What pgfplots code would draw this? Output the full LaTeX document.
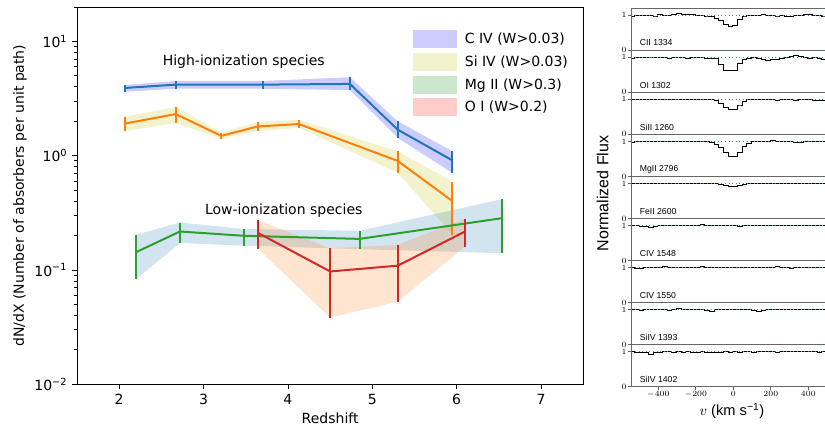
\documentclass[border=0pt]{standalone}
\usepackage{pgfplots}
\pgfplotsset{compat=1.18}
\usepackage{pgfplotstable}
\usepgfplotslibrary{fillbetween}
\usepackage{fontspec}
\setmainfont{DejaVu Sans}
\newfontfamily\helv{Liberation Sans}
\definecolor{c0}{HTML}{1F77B4}
\definecolor{c1}{HTML}{FF7F0E}
\definecolor{c2}{HTML}{2CA02C}
\definecolor{c3}{HTML}{D62728}
\definecolor{yel}{rgb}{0.75,0.75,0}
\definecolor{grn}{rgb}{0,0.5,0}
\definecolor{contc}{HTML}{3A8CC8}

\pgfplotstableread{
z y lo hi
2.07 3.91 3.62 4.15
2.67 4.18 3.85 4.50
3.70 4.18 3.85 4.50
4.735 4.24 3.75 4.85
5.30 1.69 1.43 2.00
5.95 0.908 0.705 1.09
}\civ
\pgfplotstableread{
z y lo hi
2.07 1.91 1.64 2.18
2.67 2.31 1.93 2.67
3.21 1.49 1.40 1.59
3.64 1.80 1.64 1.97
4.13 1.89 1.75 2.06
5.30 0.90 0.71 1.09
5.95 0.40 0.203 0.594
}\siiv
\pgfplotstableread{
z y lo hi
2.20 0.143 0.083 0.203
2.72 0.217 0.172 0.260
3.48 0.199 0.163 0.228
4.85 0.187 0.152 0.220
6.54 0.284 0.140 0.417
}\mgii
\pgfplotstableread{
z y lo hi
3.65 0.21 0.152 0.271
4.50 0.097 0.0383 0.155
5.30 0.109 0.0528 0.166
6.10 0.217 0.160 0.279
}\oi

\pgfplotstableread{
v p1 p2 p3 p4 p5 p6 p7 p8 p9
-540 0.97 0.98 0.99 0.98 0.99 0.99 0.99 1.00 1.00
-515 0.99 1.00 1.00 0.99 1.00 0.99 0.98 0.99 0.99
-490 1.00 0.99 0.99 1.00 0.99 0.98 0.97 0.98 0.97
-465 0.99 1.00 1.01 0.99 1.00 0.96 0.99 0.99 0.98
-440 1.00 1.01 1.00 1.00 1.00 0.93 1.00 1.00 0.93
-415 0.98 0.99 1.01 1.00 1.00 0.98 1.00 1.00 0.98
-390 1.01 1.00 1.00 1.01 0.99 0.99 1.00 0.99 0.99
-365 1.00 0.99 0.99 1.00 1.00 1.00 1.02 1.00 1.00
-340 0.99 0.98 1.00 0.99 1.00 1.01 1.00 0.98 1.00
-315 1.03 1.00 1.01 1.00 0.99 1.01 0.99 1.01 0.99
-290 1.05 0.99 1.00 1.01 1.00 1.00 1.00 1.03 1.00
-265 1.03 1.00 1.00 1.00 1.00 0.99 0.99 1.01 0.99
-240 1.02 0.98 0.99 1.00 0.99 1.00 1.00 1.00 1.00
-215 1.01 0.99 1.00 0.99 1.00 1.01 1.00 0.99 0.99
-190 1.00 1.00 1.01 1.00 1.00 1.00 0.99 1.00 0.99
-165 0.99 0.99 1.00 1.01 0.99 1.03 1.02 0.99 1.00
-140 0.98 0.97 0.99 1.00 1.00 1.00 1.01 0.98 0.99
-115 0.97 0.98 0.99 0.98 1.00 0.99 1.00 0.96 0.97
-90 0.92 0.97 0.96 0.92 0.99 1.00 0.99 0.99 0.98
-65 0.84 0.80 0.88 0.82 0.96 1.00 1.00 1.00 0.99
-40 0.74 0.63 0.78 0.68 0.93 0.99 1.00 0.99 1.00
-15 0.69 0.62 0.71 0.57 0.91 0.99 1.00 1.00 0.99
10 0.70 0.63 0.72 0.56 0.92 0.99 0.99 0.99 1.00
35 0.88 0.82 0.84 0.68 0.95 0.98 1.00 1.00 0.99
60 0.98 0.93 0.95 0.85 0.98 0.99 0.99 1.00 1.00
85 1.00 0.97 0.99 0.95 1.00 1.00 1.00 0.99 1.00
110 1.00 0.99 1.00 0.99 0.99 1.00 0.99 0.98 0.99
135 0.99 0.96 1.01 1.00 1.00 0.99 1.00 0.96 1.00
160 1.01 0.93 1.00 1.01 1.00 1.00 1.00 0.98 1.00
185 1.00 0.92 0.99 1.00 0.99 1.01 1.01 1.00 1.01
210 0.99 0.95 1.00 1.02 1.00 1.00 1.00 0.99 1.00
235 0.98 0.93 0.98 1.01 1.00 1.00 1.02 1.00 0.99
260 0.99 0.98 0.99 1.00 0.99 1.00 0.99 1.01 1.00
285 0.97 1.00 1.00 0.99 1.00 1.01 0.99 1.00 1.01
310 0.96 1.02 0.99 1.00 1.00 1.01 0.98 0.99 1.00
335 0.99 1.04 0.98 0.98 1.00 1.00 0.99 1.00 1.00
360 1.00 1.02 0.99 0.96 0.99 1.00 1.00 1.00 1.01
385 1.01 1.00 1.00 0.99 1.00 0.99 0.99 1.01 1.00
410 1.02 0.98 0.99 1.00 1.00 1.00 1.00 1.00 1.00
435 1.00 0.99 0.98 1.01 1.00 1.00 1.00 0.99 1.00
460 0.99 0.96 0.97 1.00 1.01 0.99 1.00 1.00 0.99
485 0.98 0.95 0.96 1.01 1.00 1.00 0.99 1.01 1.00
510 0.98 0.96 0.98 1.00 0.99 0.99 1.00 0.99 1.00
}\specdata

\pgfplotsset{
  spec/.style={anchor=south west, width=147.4pt, height=31.53pt, scale only axis,
    xmin=-543, xmax=505, ymin=0, ymax=1.2, ytick={0,1}, xtick=\empty,
    tick align=outside, ytick pos=left, xtick pos=bottom,
    axis line style={black!60, line width=0.6pt}, tick style={black!60, line width=0.6pt},
    major tick length=2.5pt,
    ticklabel style={font=\fontsize{6.5}{7}\selectfont, inner sep=1pt}},
  flux/.style={black, line width=0.7pt, const plot mark mid},
  cont/.style={contc, dotted, line width=0.7pt},
  err/.style={line width=1.5pt, forget plot, error bars/.cd, y dir=both, y explicit,
    error mark=none, error bar style={line width=1.5pt}},
}
\tikzset{plab/.style={anchor=west, inner sep=0pt, font=\helv\fontsize{6.5}{7}\selectfont}}

\begin{document}
\begin{tikzpicture}
\begin{axis}[
  at={(57.75pt,32.8pt)}, anchor=south west,
  width=379.7pt, height=283pt, scale only axis,
  xmin=1.5, xmax=7.5, ymode=log, ymin=0.01, ymax=20,
  xtick={2,3,4,5,6,7},
  ytick={0.01,0.1,1,10},
  yticklabels={10\textsuperscript{−2},10\textsuperscript{−1},10\textsuperscript{0},10\textsuperscript{1}},
  minor ytick={0.02,0.03,0.04,0.05,0.06,0.07,0.08,0.09,0.2,0.3,0.4,0.5,0.6,0.7,0.8,0.9,2,3,4,5,6,7,8,9,20},
  tick align=outside, xtick pos=bottom, ytick pos=left,
  major tick length=3.7pt, minor tick length=2.1pt,
  tick style={black, line width=0.6pt}, axis line style={black, line width=0.6pt},
  ticklabel style={font=\fontsize{10.5}{12}\selectfont},
  /pgf/number format/assume math mode=true,
  xlabel={Redshift}, ylabel={dN/dX (Number of absorbers per unit path)},
  label style={font=\fontsize{10.5}{12}\selectfont},
  xlabel style={at={(axis description cs:0.5,-0.0894)}, anchor=center},
  ylabel style={at={(axis description cs:-0.1126,0.5)}, anchor=center},
  legend image code/.code={\fill[#1, draw=none] (0pt,-6.8pt) rectangle (33pt,6.8pt);},
  legend style={at={(0.664,0.938)}, anchor=north west, draw=none, fill=none,
    inner sep=0pt, outer sep=0pt, row sep=3.4pt,
    font=\fontsize{10.5}{12}\selectfont,
    nodes={inner sep=0pt, outer sep=0pt},
    /tikz/every odd column/.append style={column sep=5.8pt}},
  legend cell align=left,
]
% bands
\addplot[name path=civlo, draw=none, forget plot] table[x=z,y=lo]{\civ};
\addplot[name path=civhi, draw=none, forget plot] table[x=z,y=hi]{\civ};
\addplot[fill=blue, fill opacity=0.2, draw=none, forget plot] fill between[of=civlo and civhi];
\addplot[name path=silo, draw=none, forget plot] table[x=z,y=lo]{\siiv};
\addplot[name path=sihi, draw=none, forget plot] table[x=z,y=hi]{\siiv};
\addplot[fill=yel, fill opacity=0.2, draw=none, forget plot] fill between[of=silo and sihi];
\addplot[name path=mglo, draw=none, forget plot] table[x=z,y=lo]{\mgii};
\addplot[name path=mghi, draw=none, forget plot] table[x=z,y=hi]{\mgii};
\addplot[fill=c0, fill opacity=0.2, draw=none, forget plot] fill between[of=mglo and mghi];
\addplot[name path=oilo, draw=none, forget plot] table[x=z,y=lo]{\oi};
\addplot[name path=oihi, draw=none, forget plot] table[x=z,y=hi]{\oi};
\addplot[fill=c1, fill opacity=0.2, draw=none, forget plot] fill between[of=oilo and oihi];
% lines with error bars
\addplot[c0, err] table[x=z, y=y, y error plus expr=\thisrow{hi}-\thisrow{y}, y error minus expr=\thisrow{y}-\thisrow{lo}]{\civ};
\addplot[c1, err] table[x=z, y=y, y error plus expr=\thisrow{hi}-\thisrow{y}, y error minus expr=\thisrow{y}-\thisrow{lo}]{\siiv};
\addplot[c2, err] table[x=z, y=y, y error plus expr=\thisrow{hi}-\thisrow{y}, y error minus expr=\thisrow{y}-\thisrow{lo}]{\mgii};
\addplot[c3, err] table[x=z, y=y, y error plus expr=\thisrow{hi}-\thisrow{y}, y error minus expr=\thisrow{y}-\thisrow{lo}]{\oi};
% legend
\addlegendimage{fill=blue, fill opacity=0.2, draw=none}
\addlegendentry{C IV (W>0.03)}
\addlegendimage{fill=yel, fill opacity=0.2, draw=none}
\addlegendentry{Si IV (W>0.03)}
\addlegendimage{fill=grn, fill opacity=0.2, draw=none}
\addlegendentry{Mg II (W>0.3)}
\addlegendimage{fill=red, fill opacity=0.2, draw=none}
\addlegendentry{O I (W>0.2)}
\node[font=\fontsize{10.5}{12}\selectfont] at (axis cs:3.476,6.6) {High-ionization species};
\node[font=\fontsize{10.5}{12}\selectfont] at (axis cs:3.95,0.329) {Low-ionization species};
\end{axis}

% right panels
\begin{axis}[spec, at={(473.6pt,283.24pt)}]
\addplot[flux] table[x=v,y=p1]{\specdata};
\addplot[cont] coordinates {(-543,1) (505,1)};
\node[plab] at (axis cs:-500,0.21) {CII 1334};
\end{axis}
\begin{axis}[spec, at={(473.6pt,251.71pt)}]
\addplot[flux] table[x=v,y=p2]{\specdata};
\addplot[cont] coordinates {(-543,1) (505,1)};
\node[plab] at (axis cs:-500,0.21) {OI 1302};
\end{axis}
\begin{axis}[spec, at={(473.6pt,220.18pt)}]
\addplot[flux] table[x=v,y=p3]{\specdata};
\addplot[cont] coordinates {(-543,1) (505,1)};
\node[plab] at (axis cs:-500,0.21) {SiII 1260};
\end{axis}
\begin{axis}[spec, at={(473.6pt,188.65pt)}]
\addplot[flux] table[x=v,y=p4]{\specdata};
\addplot[cont] coordinates {(-543,1) (505,1)};
\node[plab] at (axis cs:-500,0.21) {MgII 2796};
\end{axis}
\begin{axis}[spec, at={(473.6pt,157.12pt)}]
\addplot[flux] table[x=v,y=p5]{\specdata};
\addplot[cont] coordinates {(-543,1) (505,1)};
\node[plab] at (axis cs:-500,0.21) {FeII 2600};
\end{axis}
\begin{axis}[spec, at={(473.6pt,125.59pt)}]
\addplot[flux] table[x=v,y=p6]{\specdata};
\addplot[cont] coordinates {(-543,1) (505,1)};
\node[plab] at (axis cs:-500,0.21) {CIV 1548};
\end{axis}
\begin{axis}[spec, at={(473.6pt,94.06pt)}]
\addplot[flux] table[x=v,y=p7]{\specdata};
\addplot[cont] coordinates {(-543,1) (505,1)};
\node[plab] at (axis cs:-500,0.21) {CIV 1550};
\end{axis}
\begin{axis}[spec, at={(473.6pt,62.53pt)}]
\addplot[flux] table[x=v,y=p8]{\specdata};
\addplot[cont] coordinates {(-543,1) (505,1)};
\node[plab] at (axis cs:-500,0.21) {SiIV 1393};
\end{axis}
\begin{axis}[spec, at={(473.6pt,31pt)},
  xtick={-400,-200,0,200,400},
  xlabel={\helv $v$ (km s\textsuperscript{−1})},
  xlabel style={font=\helv\fontsize{11}{13}\selectfont, at={(axis description cs:0.511,-0.579)}, anchor=center}]
\addplot[flux] table[x=v,y=p9]{\specdata};
\addplot[cont] coordinates {(-543,1) (505,1)};
\node[plab] at (axis cs:-500,0.21) {SiIV 1402};
\end{axis}
\node[rotate=90, font=\helv\fontsize{12}{14}\selectfont] at (452pt,176pt) {Normalized Flux};
\pgfresetboundingbox
\useasboundingbox (0,0) rectangle (618.75pt,321pt);
\end{tikzpicture}
\end{document}
